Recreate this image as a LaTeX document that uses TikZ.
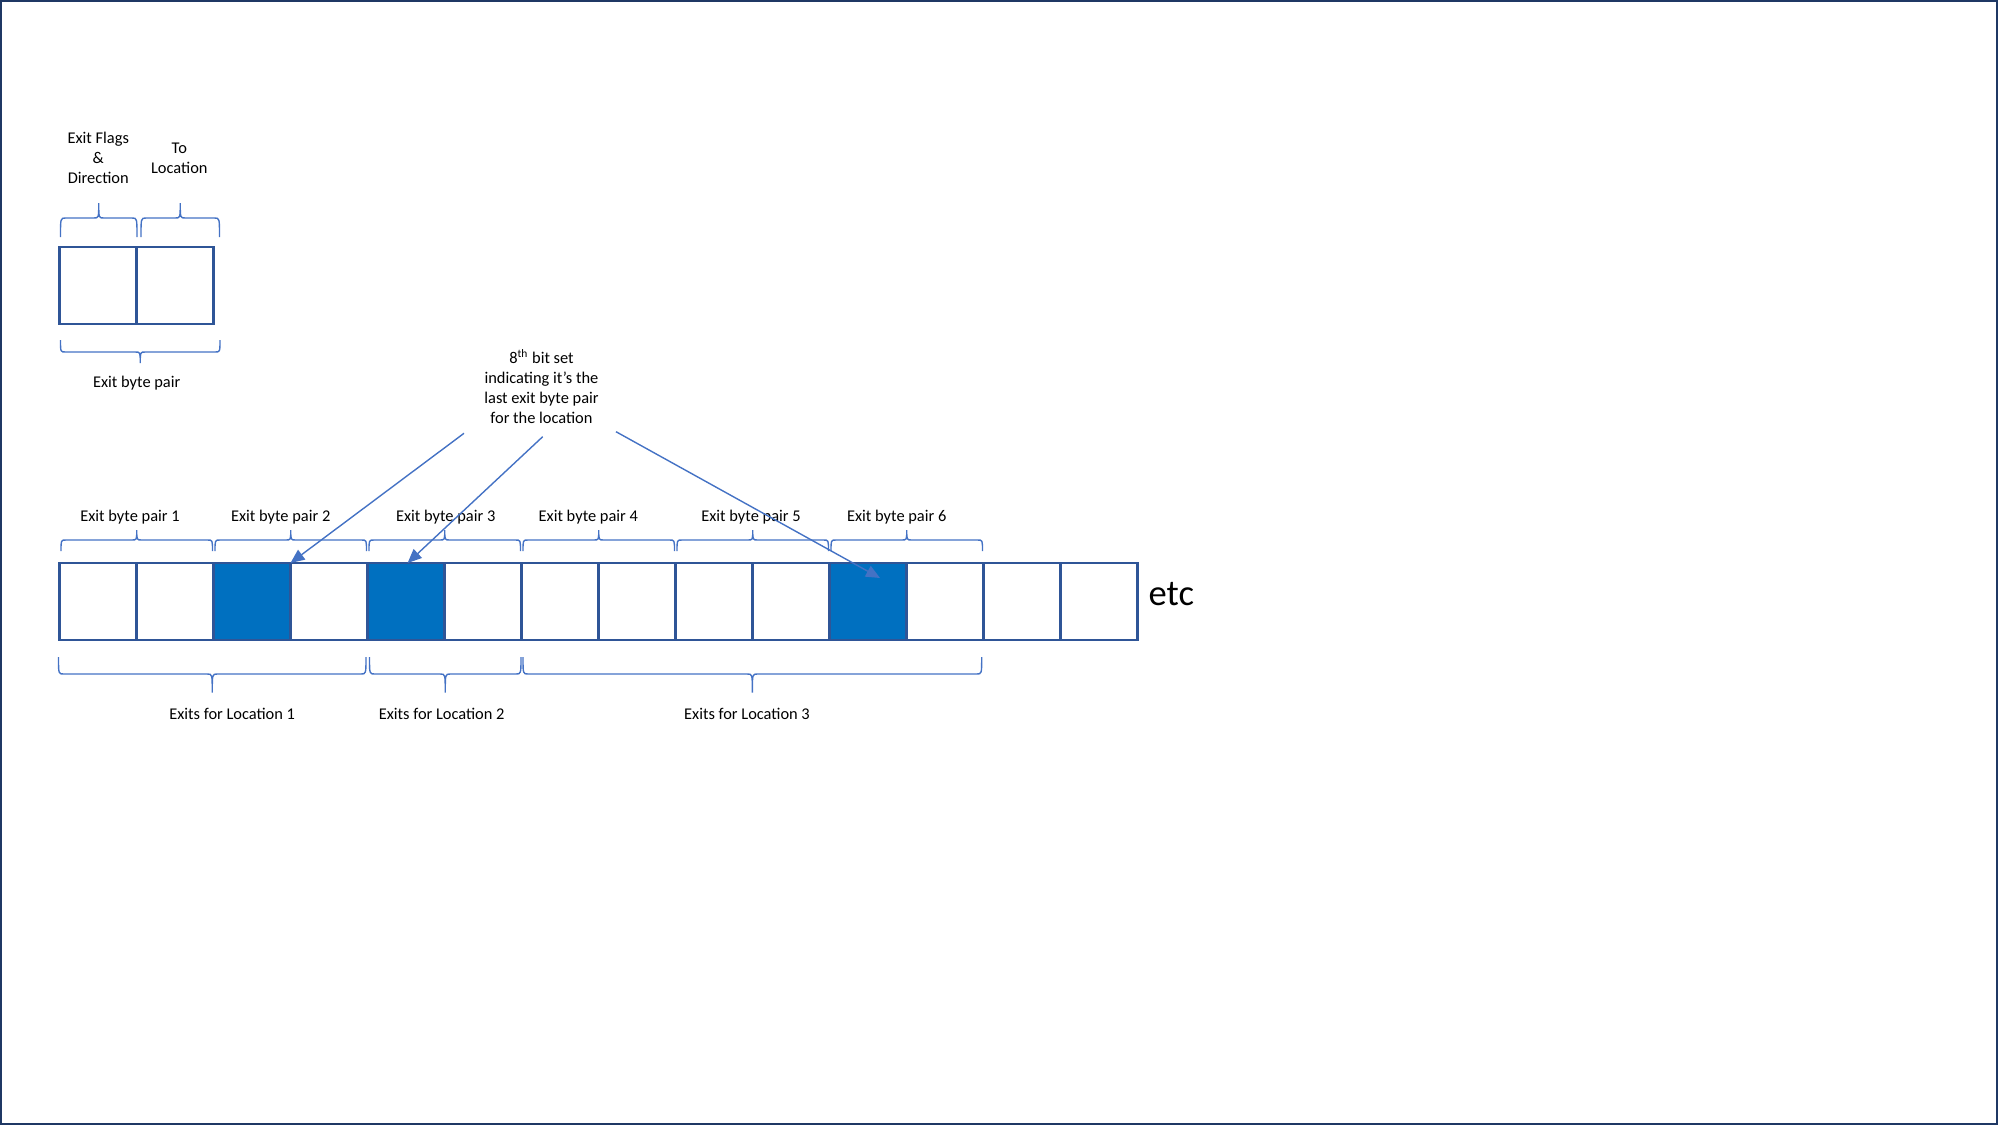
\documentclass[tikz,border=0pt]{standalone}
\usepackage{fontspec}
\setmainfont{Carlito}
\usetikzlibrary{arrows.meta}
\definecolor{cellborder}{HTML}{2F5597}
\definecolor{cellfill}{HTML}{0070C0}
\definecolor{bracecol}{HTML}{4472C4}
\definecolor{framecol}{HTML}{1F3864}
\newcommand\mybrace[5]{%
  \pgfmathsetmacro\bxa{#1}\pgfmathsetmacro\bxb{#2}%
  \pgfmathsetmacro\bxm{(\bxa+\bxb)/2}%
  \draw[bracestyle] ({\bxa},{#3}) .. controls ({\bxa},{#4}) .. ({\bxa+5},{#4})
    -- ({\bxm-5},{#4}) .. controls ({\bxm},{#4}) .. ({\bxm},{#5})
    .. controls ({\bxm},{#4}) .. ({\bxm+5},{#4})
    -- ({\bxb-5},{#4}) .. controls ({\bxb},{#4}) .. ({\bxb},{#3});}
\tikzset{
  cellbox/.style={draw=cellborder, line width=1.25pt, minimum width=38.5pt,
    minimum height=38.5pt, inner sep=0pt, outer sep=0pt},
  bracestyle/.style={draw=bracecol, line width=0.7pt},
  lbl/.style={font=\fontsize{8.2}{10}\selectfont, inner sep=0pt, anchor=base, align=center},
  pointer/.style={draw=bracecol, line width=0.7pt, -{Triangle[length=7pt,width=6pt]}},
}
\begin{document}
\begin{tikzpicture}[x=0.5pt,y=-0.5pt]
\useasboundingbox (0,0) rectangle (1998,1125);
\draw[framecol, line width=1pt] (1,1) rectangle (1997,1124);

% single exit byte pair
\node[cellbox] (s0) at (98,285.5) {};
\node[cellbox] (s1) at (175,285.5) {};
\mybrace{60.5}{137}{237}{218}{203}
\mybrace{141}{219.5}{237}{218}{203}
\mybrace{60.5}{220}{340}{352}{363}
\node[lbl] (flags) at (98.3,183.3) {Exit Flags\\\&\\Direction};
\node[lbl] (toloc) at (179.3,173.3) {To\\Location};
\node[lbl] (pairlbl) at (136.7,387.7) {Exit byte pair};

% row of bytes
\foreach \i/\f in {0/white,1/white,2/cellfill,3/white,4/cellfill,5/white,6/white,
  7/white,8/white,9/white,10/cellfill,11/white,12/white,13/white}
  \node[cellbox, fill=\f] (c\i) at ({98+77*\i},601.5) {};
\node[font=\fontsize{18.3}{22}\selectfont, inner sep=0pt, anchor=base] (etc) at (1171.3,605) {etc};

% pair braces and labels
\foreach \i/\lx in {1/130,2/280.7,3/445.7,4/588.3,5/751,6/896.7}{
  \mybrace{61+154*(\i-1)}{212.5+154*(\i-1)}{551}{540}{530}
  \node[lbl] (p\i) at (\lx,521.7) {Exit byte pair \i};
}

% location braces and labels
\mybrace{58.5}{366}{657}{674}{692.5}
\mybrace{369.5}{521}{657}{674}{692.5}
\mybrace{523}{981.7}{657}{674}{692.5}
\node[lbl] (l1) at (232.2,719.3) {Exits for Location 1};
\node[lbl] (l2) at (441.7,719.3) {Exits for Location 2};
\node[lbl] (l3) at (747,719.3) {Exits for Location 3};

% callout
\node[lbl] (note) at (541.5,423.3) {8\textsuperscript{th} bit set\\indicating it’s the\\last exit byte pair\\for the location};
\coordinate (n1) at (464,433.3);
\coordinate (n2) at (542.7,436.7);
\coordinate (n3) at (616,431.7);
\coordinate (t3) at (880,578);
\draw[pointer] (n1) -- (c2.north east);
\draw[pointer] (n2) -- ([xshift=0.8pt]c4.north);
\draw[pointer] (n3) -- (t3);
\end{tikzpicture}
\end{document}
